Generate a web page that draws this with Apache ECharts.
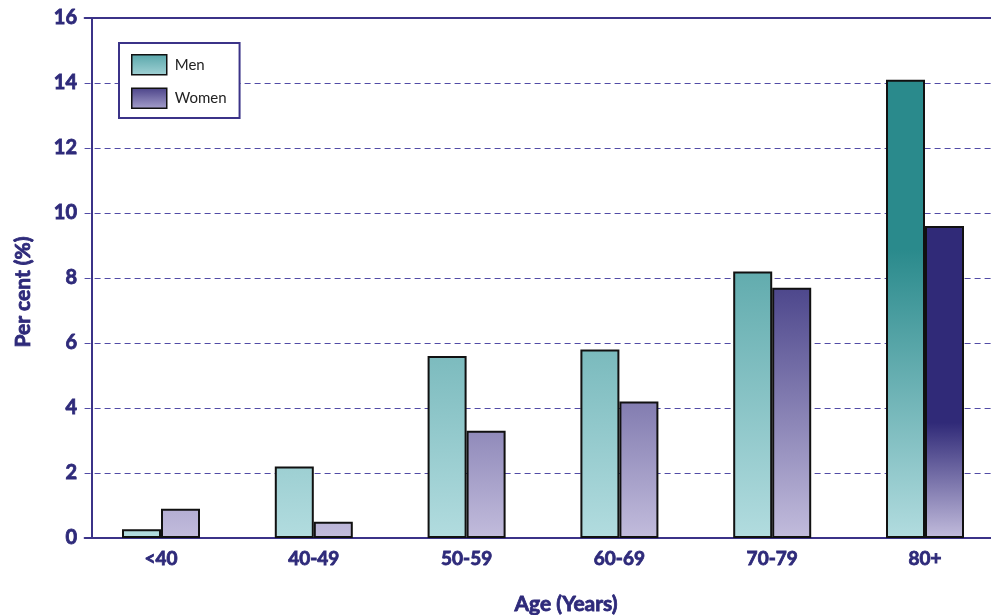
<!DOCTYPE html>
<html>
<head>
<meta charset="utf-8">
<script src="https://cdn.jsdelivr.net/npm/echarts@6/dist/echarts.min.js"></script>
<style>
  html, body { margin: 0; padding: 0; background: #ffffff; }
  #chart { width: 991px; height: 615px; }
</style>
</head>
<body>
<div id="chart"></div>
<script>
// Age groups and share of each group (per cent)
const ageGroups = ['<40', '40-49', '50-59', '60-69', '70-79', '80+'];
const menValues = [0.27, 2.2, 5.6, 5.8, 8.2, 14.1];
const womenValues = [0.9, 0.5, 3.3, 4.2, 7.7, 9.6];

const navy = '#2e2a7a';
const fontFamily = 'Lato, "Noto Sans", sans-serif';

// Colour ramps: light at the base, darker with height
const menLight = [178, 220, 223], menDark = [42, 138, 140];
const womenLight = [194, 188, 220], womenDark = [48, 42, 120];

function mix(a, b, t) {
  t = Math.max(0, Math.min(1, t));
  const c = a.map((v, i) => Math.round(v + (b[i] - v) * t));
  return 'rgb(' + c.join(',') + ')';
}

// Vertical gradient for one bar; the top colour follows the bar's height.
// The tallest bar in each series holds its dark colour over its upper part.
function barFill(value, light, dark, ref, idx, holdUntil) {
  const stops = [];
  if (idx === ageGroups.length - 1) {
    stops.push({ offset: 0, color: mix(light, dark, 1) });
    stops.push({ offset: holdUntil, color: mix(light, dark, 1) });
    stops.push({ offset: 1, color: mix(light, dark, 0) });
  } else {
    stops.push({ offset: 0, color: mix(light, dark, value / ref) });
    stops.push({ offset: 1, color: mix(light, dark, 0) });
  }
  return new echarts.graphic.LinearGradient(0, 0, 0, 1, stops);
}

function seriesData(values, light, dark, ref, hold) {
  return values.map((v, i) => ({
    value: v,
    itemStyle: { color: barFill(v, light, dark, ref, i, hold) }
  }));
}

const chart = echarts.init(document.getElementById('chart'), null, { renderer: 'canvas' });

const barBorder = { borderColor: '#111111', borderWidth: 2 };

// Heavy navy label text (bold face thickened with a thin outline)
function heavyText(size) {
  return {
    fontFamily: fontFamily,
    fontSize: size,
    fontWeight: 'bold',
    color: navy,
    textBorderColor: navy,
    textBorderWidth: 0.8
  };
}

// Axis titles drawn as free text
function titleText(text, x, y, rotation) {
  return {
    type: 'text',
    x: x,
    y: y,
    rotation: rotation,
    style: {
      text: text,
      fontFamily: fontFamily,
      fontSize: 21,
      fontWeight: 'bold',
      fill: navy,
      stroke: navy,
      lineWidth: 0.8,
      textAlign: 'center',
      textVerticalAlign: 'middle'
    }
  };
}

chart.setOption({
  animation: false,
  backgroundColor: '#ffffff',
  grid: {
    left: 84.6, width: 916.8, top: 18, bottom: 77,
    containLabel: false, outerBoundsMode: 'none'
  },
  legend: {
    left: 119,
    top: 43,
    orient: 'vertical',
    icon: 'rect',
    backgroundColor: '#ffffff',
    borderColor: '#3b3388',
    borderWidth: 2,
    padding: [11, 13, 9, 12],
    itemWidth: 35,
    itemHeight: 20,
    itemGap: 12,
    textStyle: {
      fontFamily: fontFamily, fontSize: 15, color: '#222222', fontWeight: 'normal',
      padding: [0, 0, 0, 3]
    },
    data: [
      {
        name: 'Men',
        itemStyle: {
          color: new echarts.graphic.LinearGradient(0, 0, 0, 1, [
            { offset: 0, color: '#58a6aa' }, { offset: 1, color: '#a2d2d5' }
          ]),
          borderColor: '#111111', borderWidth: 1.5
        }
      },
      {
        name: 'Women',
        itemStyle: {
          color: new echarts.graphic.LinearGradient(0, 0, 0, 1, [
            { offset: 0, color: '#4a4288' }, { offset: 1, color: '#a6a0cc' }
          ]),
          borderColor: '#111111', borderWidth: 1.5
        }
      }
    ]
  },
  xAxis: [
    {
      type: 'category',
      data: ageGroups,
      boundaryGap: true,
      axisLine: { show: true, lineStyle: { color: '#3b3388', width: 2 } },
      axisTick: { show: false },
      axisLabel: Object.assign({ margin: 11 }, heavyText(19))
    },
    {
      type: 'category',
      position: 'top',
      data: ageGroups,
      axisLine: { show: true, lineStyle: { color: '#3b3388', width: 2 } },
      axisTick: { show: false },
      axisLabel: { show: false }
    }
  ],
  yAxis: {
    type: 'value',
    min: 0,
    max: 16,
    interval: 2,
    offset: -7.4,
    axisLine: { show: true, lineStyle: { color: '#3b3388', width: 2 } },
    axisTick: { show: false },
    axisLabel: Object.assign({ margin: 15 }, heavyText(20)),
    splitLine: {
      show: true,
      lineStyle: { color: '#3f379c', width: 1, type: [6, 4], opacity: 0.9 }
    }
  },
  graphic: [
    titleText('Age (Years)', 566, 604, 0),
    titleText('Per cent (%)', 23, 292, Math.PI / 2)
  ],
  series: [
    {
      name: 'Men',
      type: 'bar',
      xAxisIndex: 0,
      barWidth: 39,
      barGap: '0%',
      itemStyle: Object.assign({ color: '#6ab0b4' }, barBorder),
      data: seriesData(menValues, menLight, menDark, 14, 0.37)
    },
    {
      name: 'Women',
      type: 'bar',
      xAxisIndex: 0,
      barWidth: 39,
      barGap: '0%',
      itemStyle: Object.assign({ color: '#6a62a0' }, barBorder),
      data: seriesData(womenValues, womenLight, womenDark, 9.6, 0.63)
    }
  ]
});
</script>
</body>
</html>
